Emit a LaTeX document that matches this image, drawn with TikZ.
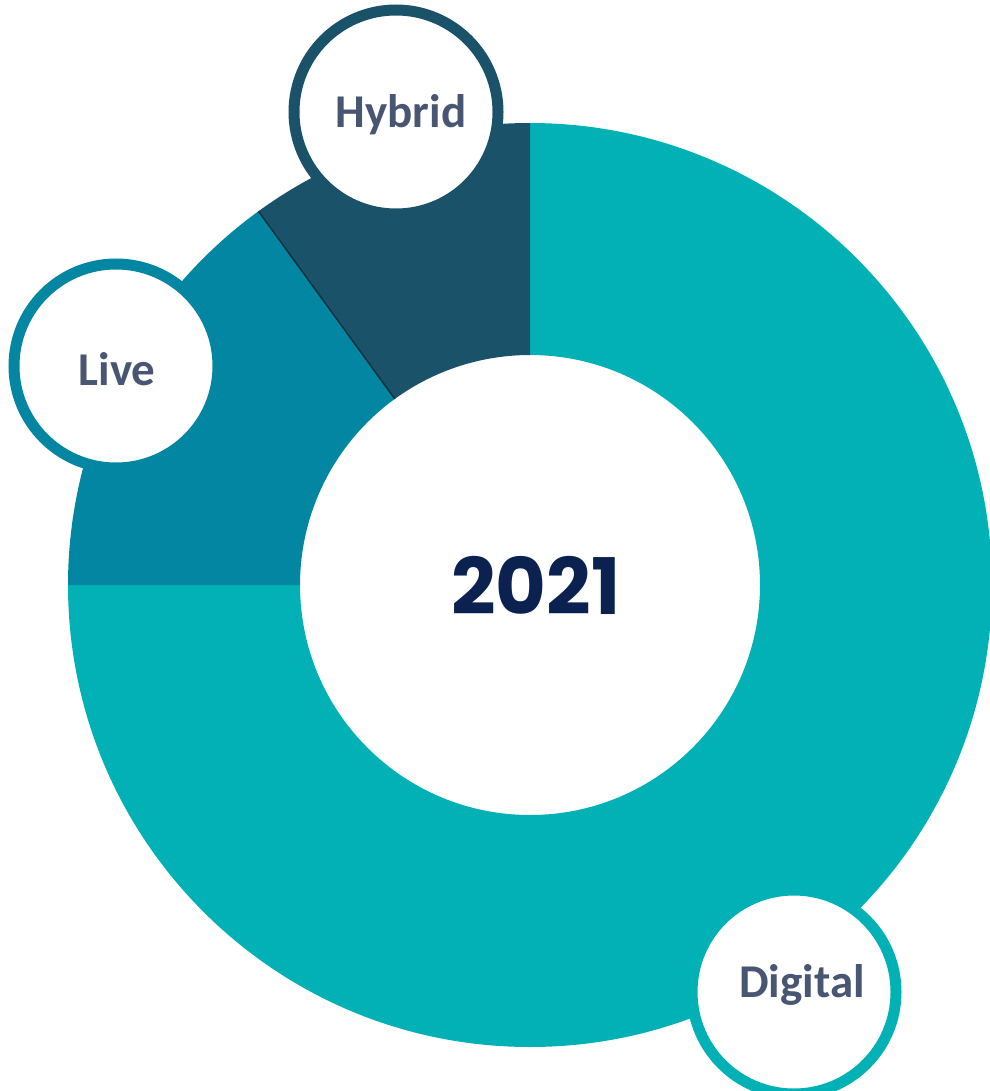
\documentclass[tikz,border=0pt]{standalone}
\usepackage{fontspec}
\setmainfont{Carlito}
\newfontfamily\yearfont{Poppins}
\usetikzlibrary{positioning}
\definecolor{digital}{HTML}{02B1B5}
\definecolor{live}{HTML}{0386A2}
\definecolor{hybrid}{HTML}{1A5369}
\definecolor{labeltext}{HTML}{495673}
\definecolor{yeartext}{HTML}{0B214F}
\tikzset{
  bubble/.style={circle, draw, line width=11pt, fill=white, minimum size=204pt, inner sep=0pt},
  tag/.style={anchor=base, inner sep=0pt, text=labeltext, font=\bfseries\fontsize{47}{56}\selectfont},
}

\begin{document}
\begin{tikzpicture}[x=1pt,y=1pt]
		\useasboundingbox (0,0) rectangle (989,-1091);
		\coordinate (centre) at (530,-585);
		% ring segments
		\fill[digital] ([shift={(90:462)}]centre) arc[start angle=90, end angle=-180, radius=462]
			-- ([shift={(180:230)}]centre) arc[start angle=180, end angle=450, radius=230] -- cycle;
		\fill[live] ([shift={(180:462)}]centre) arc[start angle=180, end angle=126, radius=462]
			-- ([shift={(126:230)}]centre) arc[start angle=126, end angle=180, radius=230] -- cycle;
		\fill[hybrid] ([shift={(126:462)}]centre) arc[start angle=126, end angle=90, radius=462]
			-- ([shift={(90:230)}]centre) arc[start angle=90, end angle=126, radius=230] -- cycle;
		\draw[hybrid!60!black, line width=1.5pt] ([shift={(126:230)}]centre) -- ([shift={(126:462)}]centre);
		\node[text=yeartext, font=\yearfont\bfseries\fontsize{78}{90}\selectfont] (year) at (536,-585) {2021};
		% bubbles
		\node[bubble, draw=hybrid] (hybrid) at (396,-112) {};
		\node[bubble, draw=live] (live) at (116,-366) {};
		\node[bubble, draw=digital] (digital) at (794,-992) {};
		\node[tag] (hybridtag) at (401,-128) {Hybrid};
		\node[tag] (livetag) at (117,-385) {Live};
		\node[tag] (digitaltag) at (802,-997) {Digital};
	\end{tikzpicture}
\end{document}
